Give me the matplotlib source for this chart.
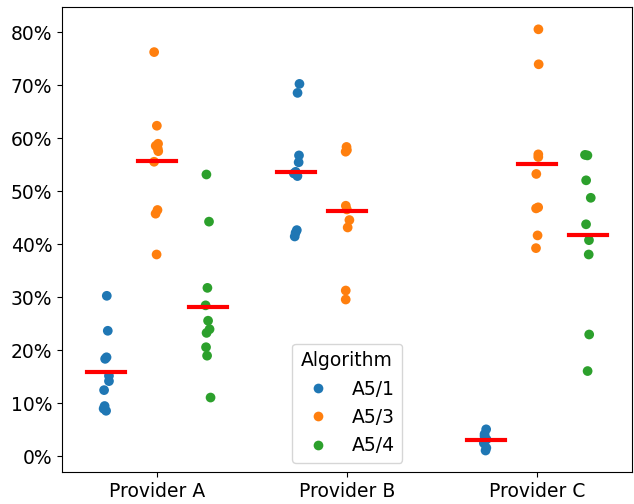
import numpy as np
import pandas as pd
import seaborn as sns
import matplotlib.pyplot as plt
from matplotlib.ticker import PercentFormatter

providers = ['Provider A', 'Provider B', 'Provider C']
algorithms = ['A5/1', 'A5/3', 'A5/4']

# values in percent
a_a51 = [30.3, 23.7, 18.4, 18.7, 15.2, 14.2, 12.5, 9.5, 9.0, 8.6]
a_a53 = [76.3, 62.4, 59.0, 58.6, 57.6, 58.1, 55.6, 46.5, 45.8, 38.1]
a_a54 = [53.2, 44.3, 31.8, 28.5, 25.6, 24.0, 23.3, 20.6, 19.0, 11.1]
b_a51 = [70.3, 68.6, 56.8, 55.5, 53.7, 53.4, 52.9, 42.7, 42.2, 41.5]
b_a53 = [58.4, 57.8, 57.5, 47.3, 46.6, 44.6, 43.2, 31.3, 29.6]
c_a51 = [5.1, 4.2, 3.8, 3.2, 2.5, 1.6, 1.1]
c_a53 = [80.6, 74.0, 57.0, 56.5, 53.3, 47.0, 46.8, 41.7, 39.3]
c_a54 = [56.8, 56.9, 52.1, 48.8, 43.8, 40.8, 38.1, 23.0, 16.1]

groups = {
    ('Provider A', 'A5/1'): a_a51,
    ('Provider A', 'A5/3'): a_a53,
    ('Provider A', 'A5/4'): a_a54,
    ('Provider B', 'A5/1'): b_a51,
    ('Provider B', 'A5/3'): b_a53,
    ('Provider C', 'A5/1'): c_a51,
    ('Provider C', 'A5/3'): c_a53,
    ('Provider C', 'A5/4'): c_a54,
}

rows = []
for (prov, alg), vals in groups.items():
    for v in vals:
        rows.append({'Provider': prov, 'Algorithm': alg, 'Success': v})
df = pd.DataFrame(rows)

plt.rcParams['font.size'] = 13.5
fig, ax = plt.subplots(figsize=(6.34, 5.04), dpi=100)
fig.subplots_adjust(left=0.098, right=0.997, top=0.986, bottom=0.063)

np.random.seed(3)
sns.stripplot(data=df, x='Provider', y='Success', hue='Algorithm',
              order=providers, hue_order=algorithms, dodge=True,
              jitter=0.05, size=7, ax=ax)

# mean markers
width = 0.8 / len(algorithms)
for i, prov in enumerate(providers):
    for j, alg in enumerate(algorithms):
        vals = groups.get((prov, alg))
        if not vals:
            continue
        xc = i + (j - 1) * width
        m = np.mean(vals)
        ax.plot([xc - 0.1, xc + 0.1], [m, m], color='red', lw=3, zorder=5)

ax.set_xlim(-0.5, 2.5)
ax.set_ylim(-3.0, 84.8)
ax.set_yticks(np.arange(0, 81, 10))
ax.yaxis.set_major_formatter(PercentFormatter(100, decimals=0))
ax.set_xlabel('')
ax.set_ylabel('')
ax.legend(title='Algorithm', loc='lower center')

plt.savefig('out.png', dpi=100)
